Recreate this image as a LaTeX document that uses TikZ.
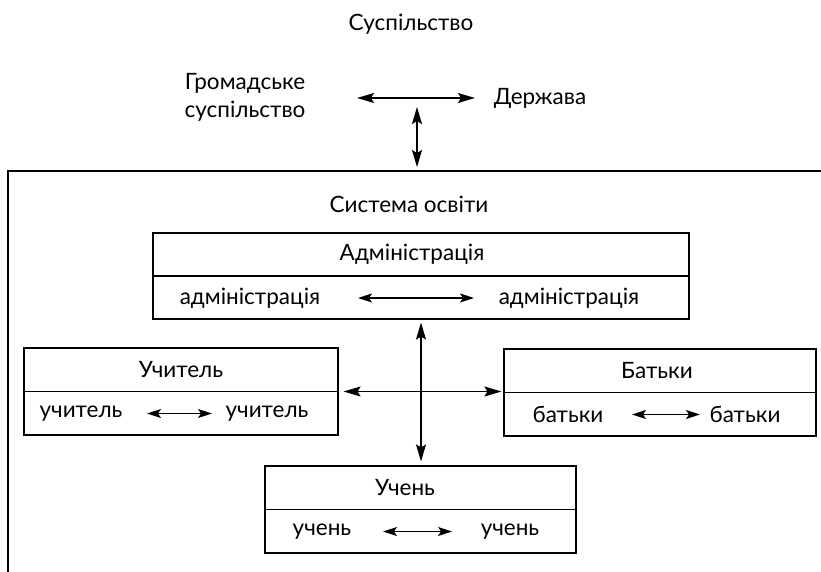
\documentclass[tikz,border=0pt]{standalone}
\usepackage{fontspec}
\setmainfont{Lato}
\usetikzlibrary{arrows.meta}
\tikzset{
  lbl/.style={inner sep=0pt, font=\fontsize{22.5}{28}\selectfont},
  box/.style={draw, line width=1.2pt, rectangle, inner sep=0pt},
  arr/.style={line width=1.2pt, {Stealth[length=17pt,width=10pt,inset=3pt]}-{Stealth[length=17pt,width=10pt,inset=3pt]}},
  sarr/.style={line width=1.2pt, {Stealth[length=14pt,width=9pt,inset=3pt]}-{Stealth[length=14pt,width=9pt,inset=3pt]}},
  frame/.style={line width=1.2pt}
}
\begin{document}
\begin{tikzpicture}[x=1pt,y=-1pt]
\useasboundingbox (0,0) rectangle (821,572);
% top
\node[lbl] (sus) at (411,24) {Суспільство};
\node[lbl, align=center] (gs) at (245,97) {Громадське\\суспільство};
\node[lbl] (dz) at (540,98) {Держава};
\coordinate (h1) at (357,98);
\coordinate (h2) at (475,98);
\draw[arr] (h1) -- (h2);
\coordinate (v1) at (417,107);
\coordinate (v2) at (417,167);
\draw[arr] (v1) -- (v2);
% frame
\coordinate (fa) at (8,572);
\coordinate (fb) at (8,171);
\coordinate (fc) at (821,171);
\draw[frame] (fa) -- (fb) -- (fc);
\node[lbl] (so) at (409,204) {Система освіти};
% administration
\node[box, minimum width=536, minimum height=86] (adm) at (421,276) {};
\draw[frame] (adm.west) -- (adm.east);
\node[lbl] (admt) at (412,254) {Адміністрація};
\node[lbl] (adml) at (250,298) {адміністрація};
\node[lbl] (admr) at (569,298) {адміністрація};
\coordinate (a1) at (358,298);
\coordinate (a2) at (474,298);
\draw[sarr] (a1) -- (a2);
% teacher
\node[box, minimum width=314, minimum height=87] (tch) at (181,391.5) {};
\draw[frame] (tch.west) -- (tch.east);
\node[lbl] (tcht) at (181,369.5) {Учитель};
\node[lbl] (tchl) at (81,413.5) {учитель};
\node[lbl] (tchr) at (267,413.5) {учитель};
\coordinate (t1) at (147,413.5);
\coordinate (t2) at (212,413.5);
\draw[sarr] (t1) -- (t2);
% parents
\node[box, minimum width=312, minimum height=87] (par) at (660,392.5) {};
\draw[frame] (par.west) -- (par.east);
\node[lbl] (part) at (657,370.5) {Батьки};
\node[lbl] (parl) at (568,414.5) {батьки};
\node[lbl] (parr) at (745,414.5) {батьки};
\coordinate (p1) at (632,414.5);
\coordinate (p2) at (700,414.5);
\draw[sarr] (p1) -- (p2);
% student
\node[box, minimum width=311, minimum height=87] (std) at (420.5,509.5) {};
\draw[frame] (std.west) -- (std.east);
\node[lbl] (stdt) at (405,487.5) {Учень};
\node[lbl] (stdl) at (322,531.5) {учень};
\node[lbl] (stdr) at (510,531.5) {учень};
\coordinate (s1) at (383,531.5);
\coordinate (s2) at (452,531.5);
\draw[sarr] (s1) -- (s2);
% cross
\draw[arr, shorten <=3pt, shorten >=4pt] (adm.south) -- (adm.south |- std.north);
\draw[arr, shorten <=5pt, shorten >=2pt] (tch.east) -- (tch.east -| par.west);
\end{tikzpicture}
\end{document}
